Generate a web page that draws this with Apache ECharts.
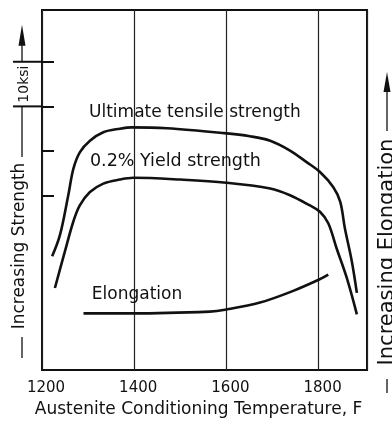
<!DOCTYPE html>
<html>
<head>
<meta charset="utf-8">
<script src="https://cdn.jsdelivr.net/npm/echarts@6/dist/echarts.min.js"></script>
<style>
  html, body { margin: 0; padding: 0; background: #fff; }
  #chart { width: 392px; height: 423px; }
</style>
</head>
<body>
<div id="chart"></div>
<script>
// Austenite conditioning temperature (F) against relative strength / elongation.
const tempTicks = [1200, 1400, 1600, 1800];

// Ultimate tensile strength, ksi (relative scale)
const utsTemp = [1222, 1239, 1257, 1268, 1282, 1304, 1333, 1369, 1395, 1471, 1595, 1651, 1695, 1738, 1774, 1803, 1832, 1847, 1857, 1872, 1883];
const utsVal  = [86.4, 91.2, 100.1, 106.0, 109.7, 112.3, 114.2, 115.0, 115.3, 115.1, 114.0, 113.3, 112.3, 110.1, 107.5, 105.3, 101.9, 98.6, 92.7, 85.3, 78.2];

// 0.2% yield strength, ksi (relative scale)
const ysTemp = [1228, 1250, 1268, 1282, 1304, 1333, 1369, 1398, 1500, 1600, 1695, 1738, 1781, 1803, 1821, 1839, 1861, 1883];
const ysVal  = [79.3, 87.6, 94.2, 97.8, 100.8, 102.7, 103.6, 104.0, 103.6, 102.9, 101.6, 100.1, 97.8, 96.4, 93.8, 88.2, 81.6, 73.4];

// Elongation, % (relative scale)
const elTemp = [1290, 1398, 1564, 1597, 1673, 1745, 1803, 1821];
const elVal  = [6.3, 6.3, 6.5, 6.7, 7.5, 8.8, 10.1, 10.6];

// Strength scale ticks (10 ksi apart)
const strengthTicks = [100, 110, 120, 130];

const FONT = 'DejaVu Sans';
const INK = '#111';

const chart = echarts.init(document.getElementById('chart'), null, { renderer: 'canvas' });

const pairs = (xs, ys) => xs.map((x, i) => [x, ys[i]]);

const lineSeries = (name, data, yAxisIndex) => ({
  name, type: 'line', data, yAxisIndex,
  smooth: 0.35, symbol: 'none',
  lineStyle: { color: INK, width: 2.6 },
  z: 5
});

chart.setOption({
  animation: false,
  backgroundColor: '#fff',
  textStyle: { fontFamily: FONT, color: INK },
  grid: {
    left: 42, right: 25, top: 10, bottom: 50,
    show: true, borderColor: INK, borderWidth: 2, backgroundColor: 'transparent'
  },
  xAxis: {
    type: 'value', min: 1200, max: 1905, interval: 200,
    axisLine: { show: false },
    axisTick: { show: false },
    splitLine: { show: true, lineStyle: { color: '#222', width: 1.2 } },
    axisLabel: {
      fontFamily: FONT, fontSize: 15, color: INK, margin: 11,
      padding: [0, 0, 0, 8],
      customValues: tempTicks,
      formatter: v => String(v)
    },
    name: 'Austenite Conditioning Temperature, F',
    nameLocation: 'middle', nameGap: 29,
    nameTextStyle: { fontFamily: FONT, fontSize: 17, color: INK, padding: [0, 12, 0, 0] }
  },
  yAxis: [
    {
      type: 'value', min: 60.9, max: 141.6,
      axisLine: { show: false },
      axisLabel: { show: false },
      splitLine: { show: false },
      axisTick: {
        show: true, inside: true, length: 12,
        customValues: strengthTicks,
        lineStyle: { color: INK, width: 2 }
      }
    },
    {
      type: 'value', min: 0, max: 40, position: 'right',
      axisLine: { show: false }, axisLabel: { show: false },
      axisTick: { show: false }, splitLine: { show: false }
    }
  ],
  series: [
    lineSeries('Ultimate tensile strength', pairs(utsTemp, utsVal), 0),
    lineSeries('0.2% Yield strength', pairs(ysTemp, ysVal), 0),
    lineSeries('Elongation', pairs(elTemp, elVal), 1)
  ]
});

// Annotations: curve captions, the 10 ksi scale bar and the rotated axis captions.
function px(t, v, axis) {
  const o = axis === 1 ? { xAxisIndex: 0, yAxisIndex: 1 } : { xAxisIndex: 0, yAxisIndex: 0 };
  return chart.convertToPixel(o, [t, v]);
}
function yOf(v) { return chart.convertToPixel({ yAxisIndex: 0 }, v); }

const rect = chart.getModel().getComponent('grid', 0).coordinateSystem.getRect();
const left = rect.x;

const caption = (text, t, v, axis, size) => {
  const p = px(t, v, axis);
  return {
    type: 'text', x: p[0], y: p[1], z: 10,
    style: { text, fontFamily: FONT, fontSize: size, fill: INK, align: 'left', verticalAlign: 'middle' }
  };
};

const y120 = yOf(120), y130 = yOf(130);
const barX = left - 20;
const line = (x1, y1, x2, y2, w) => ({
  type: 'line', z: 10,
  shape: { x1, y1, x2, y2 },
  style: { stroke: INK, lineWidth: w || 1.3 }
});
const vtext = (text, x, y, size) => ({
  type: 'text', x, y, rotation: Math.PI / 2, z: 10,
  style: { text, fontFamily: FONT, fontSize: size, fill: INK, align: 'center', verticalAlign: 'middle' }
});

const rightX = rect.x + rect.width;

chart.setOption({
  graphic: [
    caption('Ultimate tensile strength', 1302, 118.7, 0, 17),
    caption('0.2% Yield strength', 1304, 107.7, 0, 17.5),
    caption('Elongation', 1308, 8.37, 1, 17),

    // 10 ksi scale bar
    line(left - 29, y130, left, y130, 2),
    line(left - 29, y120, left, y120, 2),
    vtext('10ksi', barX + 2, (y120 + y130) / 2, 14),
    line(barX, y130, barX, y130 - 22, 1.3),
    { type: 'polygon', z: 10, shape: { points: [[barX, y130 - 37], [barX - 3.5, y130 - 16], [barX + 3.5, y130 - 16]] }, style: { fill: INK } },

    // Left caption
    line(barX, y120, barX, 157, 1.3),
    vtext('Increasing Strength', barX - 2, 246, 17),
    line(barX, 337, barX, 358, 1.3),

    // Right caption
    vtext('Increasing Elongation', rightX + 21, 252, 21),
    line(rightX + 20, 131, rightX + 20, 88, 1.3),
    { type: 'polygon', z: 10, shape: { points: [[rightX + 20, 72], [rightX + 16.5, 92], [rightX + 23.5, 92]] }, style: { fill: INK } },
    line(rightX + 20, 379, rightX + 20, 393, 1.3)
  ]
});
</script>
</body>
</html>
